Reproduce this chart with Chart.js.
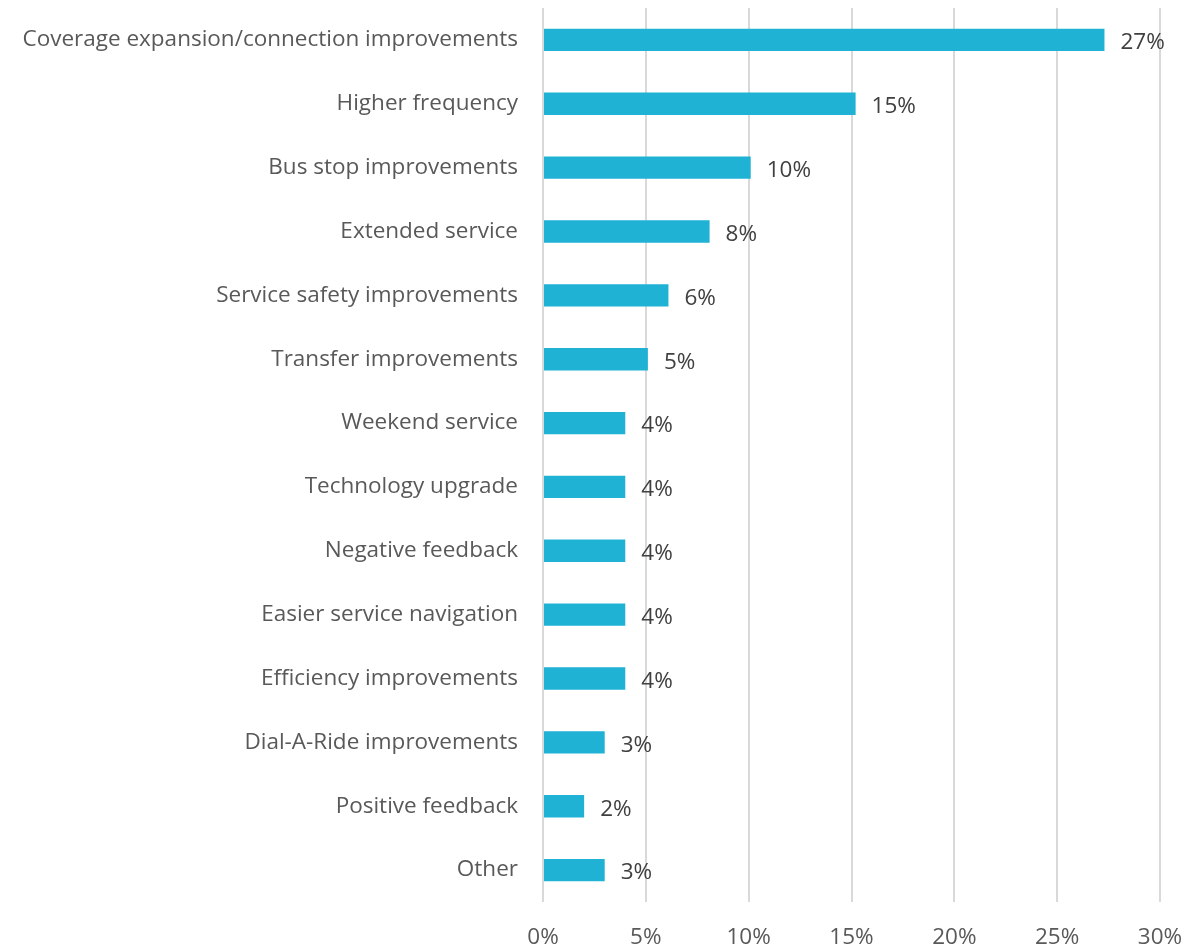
<!DOCTYPE html>
<html>
<head>
<meta charset="utf-8">
<script src="https://cdn.jsdelivr.net/npm/chart.js@4/dist/chart.umd.min.js"></script>
<style>
  html, body { margin: 0; padding: 0; background: #fff; }
  #wrap { width: 1202px; height: 948px; }
</style>
</head>
<body>
<div id="wrap"><canvas id="myChartBar"></canvas></div>
<script>
const categories = [
  'Coverage expansion/connection improvements',
  'Higher frequency',
  'Bus stop improvements',
  'Extended service',
  'Service safety improvements',
  'Transfer improvements',
  'Weekend service',
  'Technology upgrade',
  'Negative feedback',
  'Easier service navigation',
  'Efficiency improvements',
  'Dial-A-Ride improvements',
  'Positive feedback',
  'Other'
];
const shares = [27.3, 15.2, 10.1, 8.1, 6.1, 5.1, 4.0, 4.0, 4.0, 4.0, 4.0, 3.0, 2.0, 3.0];
const shareLabels = ['27%', '15%', '10%', '8%', '6%', '5%', '4%', '4%', '4%', '4%', '4%', '3%', '2%', '3%'];

const FONT = '"Open Sans", "Noto Sans", sans-serif';
const FONT_SIZE = 22.5;

// value labels at the end of each bar
const barLabels = {
  id: 'barLabels',
  afterDatasetsDraw(chart) {
    const ctx = chart.ctx;
    const meta = chart.getDatasetMeta(0);
    ctx.save();
    ctx.font = FONT_SIZE + 'px ' + FONT;
    ctx.fillStyle = '#404040';
    ctx.textAlign = 'left';
    ctx.textBaseline = 'middle';
    meta.data.forEach((bar, i) => {
      ctx.fillText(shareLabels[i], bar.x + 16, bar.y + 3);
    });
    ctx.restore();
  }
};

const config = {
  type: 'bar',
  data: {
    labels: categories,
    datasets: [{
      data: shares,
      backgroundColor: '#1fb2d4',
      barPercentage: 0.7,
      categoryPercentage: 0.5
    }]
  },
  options: {
    indexAxis: 'y',
    responsive: true,
    maintainAspectRatio: false,
    animation: false,
    layout: { padding: { top: 8, right: 42, left: 0, bottom: 0 } },
    plugins: {
      legend: { display: false },
      tooltip: { enabled: false }
    },
    scales: {
      x: {
        min: 0,
        max: 30,
        ticks: {
          stepSize: 5,
          callback: v => v + '%',
          color: '#595959',
          font: { family: FONT, size: FONT_SIZE },
          padding: 22
        },
        grid: { color: '#d9d9d9', lineWidth: 2, drawTicks: false },
        border: { display: false },
        afterFit(scale) {
          scale.height = 46;
          scale.paddingLeft = 0;
          scale.paddingRight = 0;
        }
      },
      y: {
        ticks: {
          color: '#595959',
          font: { family: FONT, size: FONT_SIZE },
          padding: 25
        },
        grid: { display: false, drawTicks: false },
        border: { display: false },
        afterFit(scale) {
          scale.width = 543;
          scale.paddingTop = 0;
          scale.paddingBottom = 0;
        }
      }
    }
  },
  plugins: [barLabels]
};

const canvasElBar = document.getElementById('myChartBar');
const barChart = new Chart(canvasElBar, config);
</script>
</body>
</html>
